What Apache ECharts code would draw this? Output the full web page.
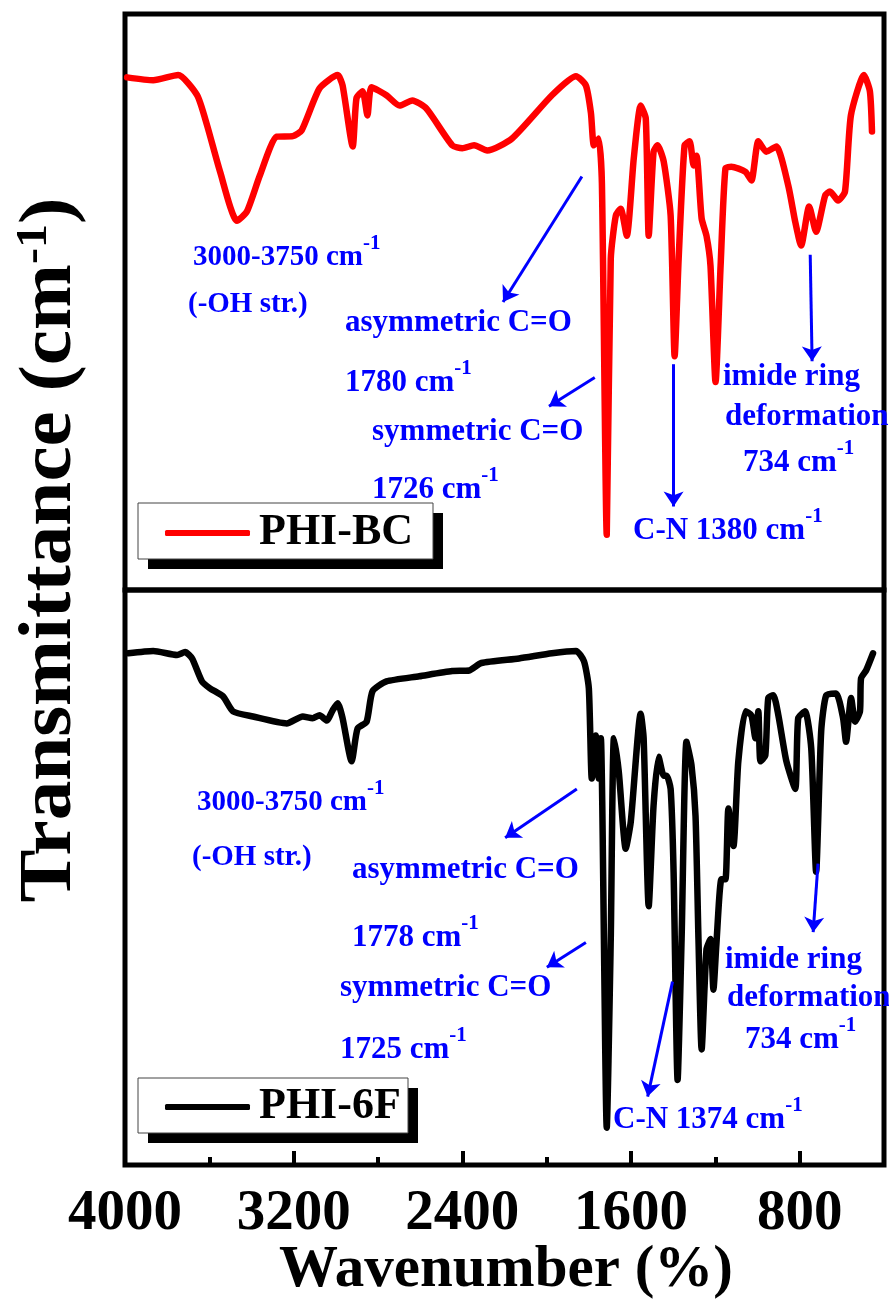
<!DOCTYPE html>
<html>
<head>
<meta charset="utf-8">
<title>FTIR PHI-BC / PHI-6F</title>
<style>
  html, body { margin: 0; padding: 0; background: #fff; }
  #chart { width: 889px; height: 1304px; }
</style>
<script src="https://cdn.jsdelivr.net/npm/echarts@6/dist/echarts.min.js"></script>
</head>
<body>
<div id="chart"></div>
<script>
// wavenumber (cm-1) and relative transmittance (0-100, panel height)
const bcWavenumber = [3990, 3866, 3748, 3658, 3611, 3549, 3469, 3422, 3360, 3280, 3204, 3162, 3077, 2991, 2968, 2920, 2902, 2873, 2850, 2831,
	2760, 2698, 2637, 2571, 2448, 2400, 2344, 2282, 2164, 1975, 1861, 1814, 1790, 1776, 1753, 1738, 1715, 1696, 1672, 1649,
	1620, 1587, 1554, 1530, 1516, 1493, 1474, 1445, 1412, 1393, 1374, 1346, 1322, 1303, 1289, 1265, 1242, 1223, 1199, 1175,
	1152, 1124, 1057, 1029, 996, 958, 911, 854, 821, 793, 755, 722, 679, 656, 618, 585, 557, 495, 467, 457]
const bcTransmittance = [89.0, 88.5, 89.4, 85.9, 80.7, 72.6, 64.1, 65.7, 72.0, 78.7, 78.8, 79.8, 87.1, 89.4, 87.6, 77.0, 85.4, 86.6, 82.4, 87.3,
	85.9, 84.1, 85.0, 83.6, 77.2, 76.7, 77.2, 76.3, 78.4, 85.9, 89.2, 87.6, 82.8, 77.2, 78.4, 70.6, 9.6, 57.5, 65.0, 66.2,
	61.5, 74.9, 84.1, 81.9, 61.5, 76.1, 77.2, 74.4, 65.0, 40.6, 57.5, 77.2, 77.9, 73.7, 75.4, 64.5, 61.5, 56.3, 36.1, 56.3,
	73.2, 73.5, 72.6, 71.1, 77.9, 76.1, 77.0, 70.2, 63.9, 59.8, 66.6, 62.2, 68.5, 69.2, 67.6, 69.2, 82.4, 89.4, 86.6, 79.6]

const f6Wavenumber = [3984, 3866, 3753, 3715, 3682, 3635, 3597, 3535, 3488, 3393, 3233, 3157, 3110, 3077, 3043, 3015, 2991, 2968, 2925, 2897,
	2854, 2826, 2760, 2604, 2448, 2367, 2310, 2131, 1975, 1861, 1823, 1800, 1786, 1767, 1753, 1743, 1715, 1696, 1681, 1658,
	1625, 1601, 1554, 1540, 1516, 1493, 1469, 1445, 1431, 1412, 1398, 1379, 1360, 1337, 1313, 1294, 1280, 1265, 1242, 1223,
	1209, 1195, 1171, 1152, 1138, 1114, 1091, 1057, 1029, 1010, 996, 986, 963, 949, 925, 901, 863, 821, 807, 774,
	745, 722, 698, 674, 627, 594, 580, 556, 537, 514, 509, 485, 452]
const f6Transmittance = [89.0, 89.4, 88.7, 89.2, 88.1, 84.1, 82.9, 81.5, 78.9, 78.0, 76.8, 78.0, 77.7, 78.2, 77.3, 79.1, 80.3, 77.7, 70.2, 75.9,
	77.1, 82.4, 84.1, 85.0, 85.9, 86.0, 87.3, 88.1, 89.0, 89.4, 87.6, 82.9, 67.2, 74.7, 67.2, 74.2, 6.5, 39.3, 74.2, 68.4,
	55.0, 59.7, 78.5, 74.2, 45.0, 62.5, 71.0, 67.7, 67.7, 65.4, 51.0, 14.8, 39.3, 73.6, 69.5, 60.7, 39.3, 20.1, 37.5, 39.3,
	30.5, 38.4, 49.7, 49.7, 62.0, 55.5, 70.2, 78.9, 78.2, 74.2, 78.9, 70.2, 71.2, 81.2, 81.7, 78.2, 70.2, 65.4, 77.7, 78.9,
	72.4, 51.0, 75.4, 81.7, 82.0, 77.7, 73.6, 81.2, 77.1, 78.9, 84.6, 86.0, 89.0]

const majorTicks = [4000, 3200, 2400, 1600, 800]
const minorTicks = [3600, 2800, 2000, 1200]

// arrows: [fromWavenumber, fromValue, toWavenumber, toValue]
const arrowsBC = [[1833, 71.8, 2207, 50.0], [1772, 36.9, 1989, 31.9], [1398, 39.2, 1398, 14.5], [750, 58.2, 741, 39.7]]
const arrows6F = [[1857, 65.4, 2197, 56.9], [1814, 38.7, 1999, 34.4], [1403, 31.9, 1521, 11.9], [713, 52.4, 736, 40.5]]

// annotation texts: [x, y, text, superscript, fontSize]
const notes = [
	[193, 258, '3000-3750 cm', '-1', 29],
	[188, 305, '(-OH str.)', '', 29],
	[345, 323, 'asymmetric C=O', '', 31],
	[345, 383, '1780 cm', '-1', 31],
	[372, 432, 'symmetric C=O', '', 31],
	[372, 490, '1726 cm', '-1', 31],
	[633, 531, 'C-N 1380 cm', '-1', 31],
	[723, 377, 'imide ring', '', 31],
	[725, 417, 'deformation', '', 31],
	[743, 463, '734 cm', '-1', 31],
	[197, 803, '3000-3750 cm', '-1', 29],
	[192, 858, '(-OH str.)', '', 29],
	[352, 870, 'asymmetric C=O', '', 31],
	[352, 938, '1778 cm', '-1', 31],
	[340, 988, 'symmetric C=O', '', 31],
	[340, 1050, '1725 cm', '-1', 31],
	[613, 1120, 'C-N 1374 cm', '-1', 31],
	[725, 960, 'imide ring', '', 31],
	[727, 998, 'deformation', '', 31],
	[745, 1040, '734 cm', '-1', 31]
]

const serif = '"Liberation Serif", "Times New Roman", serif'
const blue = '#0000ff'

function zip(xs, ys) {
	let out = []
	for (let i = 0; i < xs.length; i++) {
		out.push([xs[i], ys[i]])
	}
	return out
}

function noteText(n) {
	return {
		type: 'text', x: n[0], y: n[1], z: 100, silent: true,
		style: {
			text: n[3] ? n[2] + '{s|' + n[3] + '}' : n[2],
			fill: blue, fontSize: n[4], fontWeight: 'bold', fontFamily: serif,
			lineHeight: 50, align: 'left', verticalAlign: 'middle',
			rich: { s: { fill: blue, fontSize: 21, fontWeight: 'bold', fontFamily: serif, lineHeight: 21, verticalAlign: 'top' } }
		}
	}
}

function markArrows(list) {
	return {
		silent: true,
		symbol: ['none', 'arrow'],
		symbolSize: 15,
		label: { show: false },
		emphasis: { disabled: true },
		lineStyle: { color: blue, width: 3, type: 'solid' },
		data: list.map(a => [{ coord: [a[0], a[1]] }, { coord: [a[2], a[3]] }])
	}
}

// legend frame with a hard black drop shadow, drawn under the legend itself
function legendFrame(x, y, w, h) {
	return [
		{ type: 'rect', z: 1, silent: true, shape: { x: x + 10, y: y + 10, width: w, height: h }, style: { fill: '#000' } },
		{ type: 'rect', z: 2, silent: true, shape: { x: x, y: y, width: w, height: h }, style: { fill: '#fff', stroke: '#444', lineWidth: 1 } }
	]
}

function legendItem(name, top) {
	return {
		data: [name], left: 165, top: top, orient: 'horizontal', padding: 0,
		itemWidth: 85, itemHeight: 6, icon: 'roundRect', selectedMode: false,
		textStyle: { fontSize: 44, fontWeight: 'bold', fontFamily: serif, color: '#000', lineHeight: 44, padding: [0, 0, 0, 4] }
	}
}

let chart = echarts.init(document.getElementById('chart'), null, { renderer: 'canvas' })
let option = {
	animation: false,
	color: ['#ff0000', '#000000'],
	grid: [
		{ left: 125, top: 14, width: 759, height: 576, show: true, borderColor: '#000', borderWidth: 5 },
		{ left: 125, top: 590, width: 759, height: 575, show: true, borderColor: '#000', borderWidth: 5 }
	],
	legend: [legendItem('PHI-BC', 511), legendItem('PHI-6F', 1085)],
	xAxis: [
		{ gridIndex: 0, type: 'value', min: 400, max: 4000, inverse: true, show: false },
		{
			gridIndex: 1, type: 'value', min: 400, max: 4000, inverse: true, position: 'bottom',
			axisLine: { show: false }, splitLine: { show: false },
			axisTick: { inside: true, length: 14, customValues: majorTicks, lineStyle: { color: '#000', width: 4 } },
			axisLabel: {
				customValues: majorTicks, fontSize: 57, fontWeight: 'bold', fontFamily: serif, color: '#000', margin: 21,
				formatter: function (value) {
					return String(value)
				}
			}
		},
		{
			gridIndex: 1, type: 'value', min: 400, max: 4000, inverse: true, position: 'bottom',
			axisLine: { show: false }, splitLine: { show: false }, axisLabel: { show: false },
			axisTick: { inside: true, length: 8, customValues: minorTicks, lineStyle: { color: '#000', width: 4 } }
		}
	],
	yAxis: [
		{ gridIndex: 0, type: 'value', min: 0, max: 100, show: false },
		{ gridIndex: 1, type: 'value', min: 0, max: 100, show: false }
	],
	series: [
		{
			name: 'PHI-BC', type: 'line', xAxisIndex: 0, yAxisIndex: 0,
			symbol: 'none', smooth: 0.2, data: zip(bcWavenumber, bcTransmittance),
			itemStyle: { color: '#ff0000' },
			lineStyle: { color: '#ff0000', width: 6.5, join: 'round', cap: 'round' },
			markLine: markArrows(arrowsBC)
		},
		{
			name: 'PHI-6F', type: 'line', xAxisIndex: 1, yAxisIndex: 1,
			symbol: 'none', smooth: 0.2, data: zip(f6Wavenumber, f6Transmittance),
			itemStyle: { color: '#000000' },
			lineStyle: { color: '#000000', width: 6.5, join: 'round', cap: 'round' },
			markLine: markArrows(arrows6F)
		}
	],
	graphic: notes.map(noteText)
		.concat(legendFrame(138, 503, 295, 56))
		.concat(legendFrame(138, 1078, 270, 55))
		.concat([
			{
				type: 'text', x: 51, y: 550, rotation: Math.PI / 2, scaleX: 1.07, silent: true,
				style: {
					text: 'Transmittance (cm{s|-1})', fill: '#000', fontSize: 74, fontWeight: 'bold', fontFamily: serif,
					lineHeight: 78, align: 'center', verticalAlign: 'middle',
					rich: { s: { fill: '#000', fontSize: 45, fontWeight: 'bold', fontFamily: serif, lineHeight: 45, verticalAlign: 'top' } }
				}
			},
			{
				type: 'text', x: 506, y: 1271, silent: true,
				style: { text: 'Wavenumber (%)', fill: '#000', fontSize: 59, fontWeight: 'bold', fontFamily: serif, align: 'center', verticalAlign: 'middle' }
			}
		])
}
chart.setOption(option)
</script>
</body>
</html>
